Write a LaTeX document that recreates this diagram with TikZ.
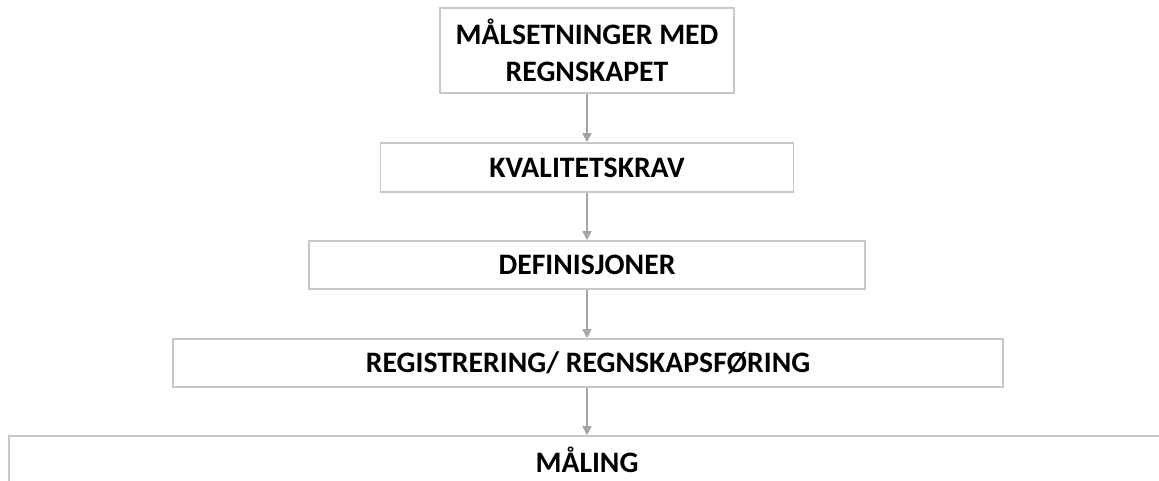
\documentclass[tikz,border=0pt]{standalone}
\usepackage{fontspec}
\setmainfont{Carlito}
\usetikzlibrary{arrows.meta}
\definecolor{boxgray}{HTML}{C8C8C8}
\definecolor{arrowgray}{HTML}{A6A6A6}

\begin{document}
\begin{tikzpicture}[
x=1pt, y=1pt,
every node/.style={font=\fontsize{29.7}{37}\selectfont\bfseries},
stegboks/.style={draw=boxgray, line width=1.6pt, rectangle, inner sep=0pt, align=center},
pil/.style={draw=arrowgray, line width=1.6pt, -{Triangle[width=9pt, length=9pt]}}
]

\useasboundingbox (0,0) rectangle (1159,-481);

\path 
(587, -50.5) node[stegboks, minimum width=294, minimum height=85] (maal) {MÅLSETNINGER MED\\REGNSKAPET}
(587, -167.5) node[stegboks, minimum width=413, minimum height=49] (kval) {KVALITETSKRAV}
(587, -265) node[stegboks, minimum width=556, minimum height=48] (def) {DEFINISJONER}
(588, -363) node[stegboks, minimum width=830, minimum height=48] (reg) {REGISTRERING/ REGNSKAPSFØRING}
(587, -460) node[stegboks, minimum width=1156, minimum height=48] (maaling) {MÅLING}
;

\draw[pil] (maal.south) -- (kval.north);
\draw[pil] (kval.south) -- (def.north);
\draw[pil] (def.south) -- (def.south |- reg.north);
\draw[pil] (reg.south -| maaling.north) -- (maaling.north);

\end{tikzpicture}
\end{document}
